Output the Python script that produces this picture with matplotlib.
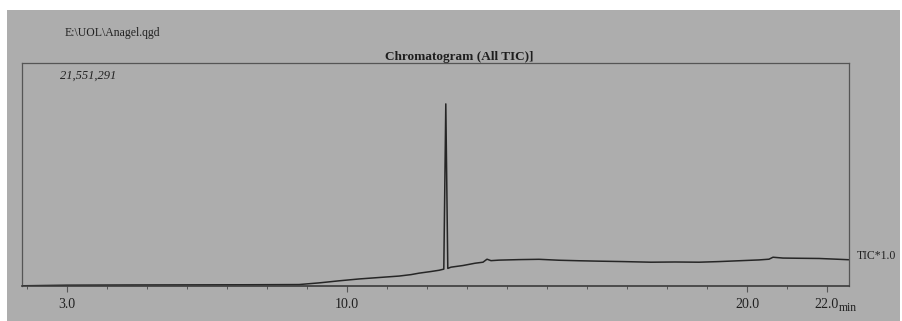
import numpy as np
import matplotlib
matplotlib.use("Agg")
import matplotlib.pyplot as plt
from matplotlib.patches import Rectangle

# Chromatogram trace (time in min, intensity in counts)
times = [1.88, 3.0, 4.5, 6.0, 7.5, 8.8, 9.3, 9.8, 10.3, 10.8, 11.3, 11.6, 11.8, 12.1, 12.3,
         12.42, 12.47, 12.52, 12.6, 12.9, 13.2, 13.4, 13.5, 13.6, 13.8, 14.3, 14.8, 15.3,
         15.8, 16.3, 16.9, 17.6, 18.2, 18.8, 19.3, 19.8, 20.3, 20.55, 20.65, 20.9, 21.3,
         21.8, 22.3, 22.53]
intensity_m = [0.02, 0.08, 0.10, 0.11, 0.12, 0.14, 0.30, 0.50, 0.68, 0.82, 0.96, 1.10, 1.24,
               1.40, 1.52, 1.63, 17.6, 1.70, 1.82, 1.98, 2.2, 2.3, 2.59, 2.45, 2.5, 2.55, 2.58,
               2.49, 2.44, 2.4, 2.36, 2.3, 2.32, 2.3, 2.36, 2.44, 2.52, 2.59, 2.78, 2.7, 2.68,
               2.66, 2.58, 2.54]
intensity = np.array(intensity_m) * 1e6

y_max = 21551291
tick_pos = [3.0, 10.0, 20.0, 22.0]
tick_labels = ["3.0", "10.0", "20.0", "22.0"]
file_name = "E:\\UOL\\Anagel.qgd"
title = "Chromatogram (All TIC)]"

plt.rcParams['font.family'] = ['Liberation Serif', 'DejaVu Serif']

W, H = 903, 321
fig = plt.figure(figsize=(W / 100, H / 100), dpi=100, facecolor="white")

# grey photographed paper
fig.patches.append(Rectangle((7 / W, 0), (900 - 7) / W, (H - 10) / H,
                             transform=fig.transFigure, facecolor="#adadad",
                             edgecolor="none", zorder=-10))

ax = fig.add_axes([22 / W, (H - 286) / H, (849 - 22) / W, (286 - 63) / H])
ax.set_facecolor("none")
ax.set_zorder(5)

ax.plot(times, intensity, color="#262626", lw=1.1)

ax.set_xlim(1.875, 22.55)
ax.set_ylim(0, y_max)

for s in ax.spines.values():
    s.set_color("#555555")
    s.set_linewidth(0.9)
ax.spines["bottom"].set_color("#3a3a3a")
ax.spines["bottom"].set_linewidth(1.2)

ax.set_xticks(tick_pos)
ax.set_xticklabels(tick_labels, fontsize=10, color="#202020")
ax.set_xticks(np.arange(2, 23, 1), minor=True)
ax.tick_params(axis="x", which="major", length=4, width=0.8, color="#555555", pad=5)
ax.tick_params(axis="x", which="minor", length=2.5, width=0.7, color="#555555")
ax.set_yticks([])

fig.text(65 / W, 1 - 33 / H, file_name, fontsize=8.5, color="#222222", va="center", ha="left")
ax.text(0.046, 0.97, "21,551,291", transform=ax.transAxes, fontsize=9,
        style="italic", color="#222222", va="top", ha="left")
fig.text(459 / W, 1 - 57 / H, title, fontsize=9.5, fontweight="bold",
         color="#1e1e1e", va="center", ha="center")
fig.text(857 / W, 1 - 256 / H, "TIC*1.0", fontsize=8.5, color="#222222",
         va="center", ha="left")
fig.text(848 / W, 1 - 308 / H, "min", fontsize=8.5, color="#222222",
         va="center", ha="center")

fig.savefig("out.png", dpi=100, facecolor=fig.get_facecolor())
